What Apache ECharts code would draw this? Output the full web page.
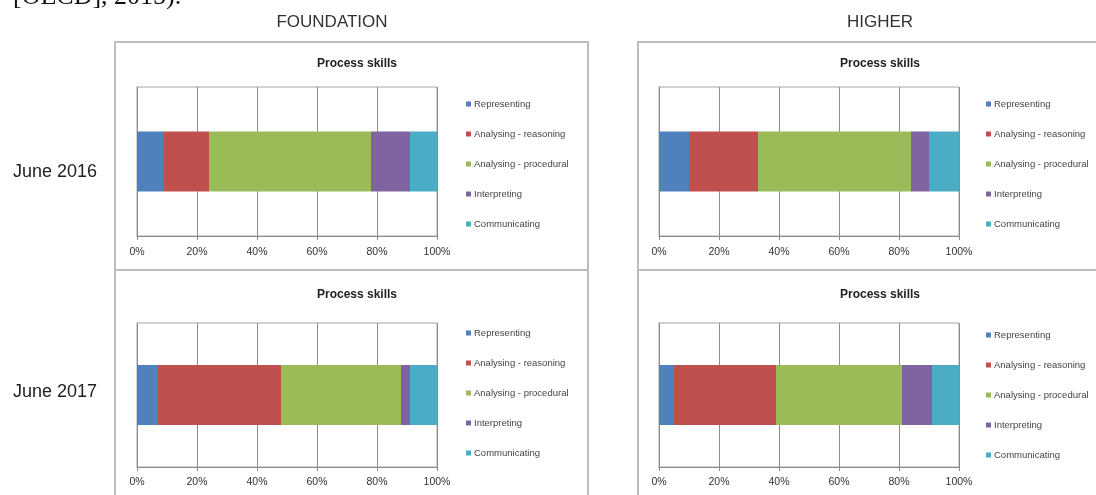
<!DOCTYPE html>
<html>
<head>
<meta charset="utf-8">
<title>Process skills</title>
<script src="https://cdn.jsdelivr.net/npm/echarts@6/dist/echarts.min.js"></script>
<style>
  html, body { margin: 0; padding: 0; background: #fff; }
  #chart { width: 1096px; height: 495px; }
</style>
</head>
<body>
<div id="chart"></div>
<script>
const skills = ["Representing", "Analysing - reasoning", "Analysing - procedural", "Interpreting", "Communicating"];
const skillColors = ["#4f81bd", "#c0504d", "#9bbb59", "#8064a2", "#4bacc6"];

// percentage share of each process skill, in the order of `skills`
const foundation2016 = [9, 15, 54, 13, 9];
const higher2016 = [10, 23, 51, 6, 10];
const foundation2017 = [7, 41, 40, 3, 9];
const higher2017 = [5, 34, 42, 10, 9];

const columnTitles = ["FOUNDATION", "HIGHER"];
const rowTitles = ["June 2016", "June 2017"];

const panels = [
  { values: foundation2016, grid: { left: 137, top: 87, width: 300, height: 149 }, titleX: 352, titleY: 53, legendX: 461, legendY: 94 },
  { values: higher2016, grid: { left: 659, top: 87, width: 300, height: 149 }, titleX: 875, titleY: 53, legendX: 981, legendY: 94 },
  { values: foundation2017, grid: { left: 137, top: 323, width: 300, height: 144 }, titleX: 352, titleY: 284, legendX: 461, legendY: 323 },
  { values: higher2017, grid: { left: 659, top: 323, width: 300, height: 144 }, titleX: 875, titleY: 284, legendX: 981, legendY: 325 }
];

const FONT = "Liberation Sans";
const axisGray = "#8c8c8c";

const chart = echarts.init(document.getElementById("chart"));

const option = {
  animation: false,
  backgroundColor: "#fff",
  textStyle: { fontFamily: FONT },
  title: panels.map((p) => ({
    text: "Process skills",
    left: p.titleX,
    top: p.titleY,
    textAlign: "center",
    textStyle: { fontFamily: FONT, fontSize: 12, fontWeight: "bold", color: "#222" }
  })),
  legend: panels.map((p) => ({
    data: skills,
    orient: "vertical",
    left: p.legendX,
    top: p.legendY,
    icon: "rect",
    itemWidth: 5,
    itemHeight: 5,
    itemGap: 20,
    selectedMode: false,
    textStyle: { fontFamily: FONT, fontSize: 9.5, color: "#444", padding: [0, 0, 0, -2] }
  })),
  grid: panels.map((p) => ({
    ...p.grid,
    show: true,
    borderColor: "#a6a6a6",
    borderWidth: 1,
    containLabel: false
  })),
  xAxis: panels.map((p, i) => ({
    type: "value",
    gridIndex: i,
    min: 0,
    max: 100,
    interval: 20,
    axisLine: { show: true, lineStyle: { color: axisGray } },
    axisTick: { show: true, length: 4, lineStyle: { color: axisGray } },
    axisLabel: { formatter: "{value}%", fontSize: 10.5, color: "#333", margin: i < 2 ? 11 : 10 },
    splitLine: { show: true, lineStyle: { color: axisGray, width: 1 } }
  })),
  yAxis: panels.map((p, i) => ({
    type: "category",
    gridIndex: i,
    data: [""],
    axisLine: { show: true, lineStyle: { color: axisGray } },
    axisTick: { show: false },
    axisLabel: { show: false }
  })),
  series: panels.flatMap((p, i) =>
    skills.map((name, j) => ({
      name,
      type: "bar",
      stack: "panel" + i,
      xAxisIndex: i,
      yAxisIndex: i,
      barWidth: 60,
      silent: true,
      itemStyle: { color: skillColors[j] },
      data: [p.values[j]]
    }))
  ),
  graphic: [
    { type: "rect", shape: { x: 115, y: 42, width: 473, height: 228 }, style: { fill: "none", stroke: "#bdbdbd", lineWidth: 2 } },
    { type: "rect", shape: { x: 115, y: 270, width: 473, height: 240 }, style: { fill: "none", stroke: "#bdbdbd", lineWidth: 2 } },
    { type: "rect", shape: { x: 638, y: 42, width: 470, height: 228 }, style: { fill: "none", stroke: "#bdbdbd", lineWidth: 2 } },
    { type: "rect", shape: { x: 638, y: 270, width: 470, height: 240 }, style: { fill: "none", stroke: "#bdbdbd", lineWidth: 2 } },
    { type: "text", x: 13, y: 10, style: { text: "[OECD], 2015).", fontFamily: "Liberation Serif", fontSize: 26, fill: "#111", align: "left", verticalAlign: "bottom" } },
    { type: "text", x: 332, y: 22, style: { text: columnTitles[0], fontFamily: FONT, fontSize: 17, fill: "#333", align: "center", verticalAlign: "middle" } },
    { type: "text", x: 880, y: 22, style: { text: columnTitles[1], fontFamily: FONT, fontSize: 17, fill: "#333", align: "center", verticalAlign: "middle" } },
    { type: "text", x: 13, y: 172, style: { text: rowTitles[0], fontFamily: FONT, fontSize: 18, fill: "#222", align: "left", verticalAlign: "middle" } },
    { type: "text", x: 13, y: 392, style: { text: rowTitles[1], fontFamily: FONT, fontSize: 18, fill: "#222", align: "left", verticalAlign: "middle" } }
  ]
};

chart.setOption(option);
</script>
</body>
</html>
